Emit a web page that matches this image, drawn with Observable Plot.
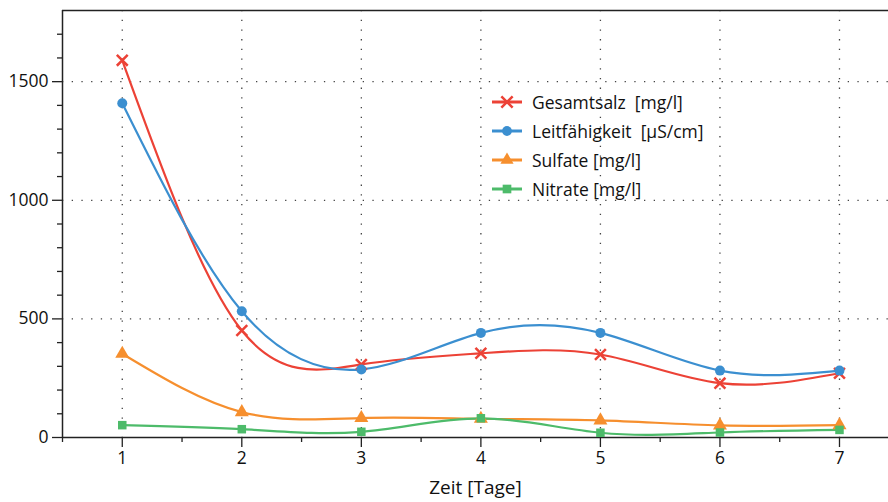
<!DOCTYPE html>
<html>
<head>
<meta charset="utf-8">
<script src="https://cdn.jsdelivr.net/npm/d3@7"></script>
<script src="https://cdn.jsdelivr.net/npm/@observablehq/plot@0.6"></script>
<style>
  html, body { margin: 0; padding: 0; background: #fff; overflow: hidden; }
  #wrap { position: relative; width: 888px; height: 502px; font-family: "Open Sans", sans-serif; }
  #legend { position: absolute; left: 491px; top: 87px; font-size: 17.5px; color: #111; }
  .row { display: flex; align-items: center; height: 29px; white-space: pre; }
  .row svg { margin-right: 9px; }
</style>
</head>
<body>
<div id="wrap"><div id="legend"></div></div>
<script>
const days = [1, 2, 3, 4, 5, 6, 7];
const seriesNames = ["Gesamtsalz  [mg/l]", "Leitfähigkeit  [µS/cm]", "Sulfate [mg/l]", "Nitrate [mg/l]"];
const gesamtsalz = [1590, 451, 308, 355, 350, 229, 271];
const leitfaehigkeit = [1409, 532, 287, 441, 441, 282, 282];
const sulfate = [353, 107, 82, 79, 72, 51, 52];
const nitrate = [52, 35, 24, 81, 20, 21, 32];
const colors = ["#ec4236", "#3b8fd0", "#f68f2e", "#4dbb6a"];
const symbols = ["times", "circle", "triangle", "square"];
const yMajor = [0, 500, 1000, 1500];
const yMinor = [100, 200, 300, 400, 600, 700, 800, 900, 1100, 1200, 1300, 1400, 1600, 1700];
const xMinor = [0.5, 1.5, 2.5, 3.5, 4.5, 5.5, 6.5];
const xLabel = "Zeit [Tage]";

const allValues = [gesamtsalz, leitfaehigkeit, sulfate, nitrate];
const series = seriesNames.map((name, k) => ({
  name, color: colors[k], symbol: symbols[k],
  data: days.map((d, i) => ({day: d, value: allValues[k][i]}))
}));

const fmt = d => String(d);
const grid = {stroke: "#444", strokeOpacity: 1, strokeWidth: 1.3, strokeDasharray: "1.3,8.4"};
const marks = [
  Plot.gridX(days, {...grid}),
  Plot.gridY([500, 1000, 1500], {...grid}),
  Plot.ruleY([1800], {stroke: "#222", strokeWidth: 1.5}),
  Plot.ruleY([0], {stroke: "#222", strokeWidth: 1.5}),
  Plot.ruleX([0.5], {stroke: "#222", strokeWidth: 1.5}),
  Plot.axisY(yMajor, {tickSize: 10, tickPadding: 4, fontSize: 17.5, tickFormat: fmt, stroke: "#222", strokeWidth: 1.3, label: null}),
  Plot.axisY(yMinor, {tickSize: 5, text: null, stroke: "#222", strokeWidth: 1.3, label: null}),
  Plot.axisX(days, {tickSize: 10, tickPadding: 4, fontSize: 17.5, tickFormat: fmt, stroke: "#222", strokeWidth: 1.3, label: null}),
  Plot.axisX(xMinor, {tickSize: 5, text: null, stroke: "#222", strokeWidth: 1.3, label: null}),
  Plot.text([xLabel], {frameAnchor: "bottom", dy: 56, fontSize: 19, fill: "#111"})
];
for (const s of series) {
  marks.push(Plot.line(s.data, {x: "day", y: "value", curve: "natural", stroke: s.color, strokeWidth: 2.2}));
}
for (const s of series) {
  if (s.symbol === "times") {
    marks.push(Plot.dot(s.data, {x: "day", y: "value", symbol: "times", r: 5, stroke: s.color, strokeWidth: 2.5}));
  } else {
    const r = s.symbol === "circle" ? 5 : s.symbol === "triangle" ? 5.2 : 4.8;
    marks.push(Plot.dot(s.data, {x: "day", y: "value", symbol: s.symbol, r, fill: s.color, stroke: "none"}));
  }
}

const chart = Plot.plot({
  width: 888, height: 502,
  marginLeft: 62, marginRight: 0, marginTop: 10, marginBottom: 65,
  style: {fontFamily: "Open Sans, sans-serif", color: "#111", background: "transparent"},
  x: {domain: [0.5, 7.41], axis: null},
  y: {domain: [0, 1800], axis: null},
  marks
});
document.getElementById("wrap").prepend(chart);

// legend
const legend = document.getElementById("legend");
for (const s of series) {
  const row = document.createElement("div");
  row.className = "row";
  const svg = d3.create("svg").attr("width", 32).attr("height", 16);
  svg.append("line").attr("x1", 1).attr("x2", 31).attr("y1", 8).attr("y2", 8)
    .attr("stroke", s.color).attr("stroke-width", 3);
  const symMap = {times: d3.symbolTimes, circle: d3.symbolCircle, triangle: d3.symbolTriangle, square: d3.symbolSquare};
  const path = svg.append("path").attr("transform", "translate(16,8)")
    .attr("d", d3.symbol(symMap[s.symbol], s.symbol === "times" ? 85 : 75)());
  if (s.symbol === "times") path.attr("fill", "none").attr("stroke", s.color).attr("stroke-width", 2.5);
  else path.attr("fill", s.color);
  row.appendChild(svg.node());
  const t = document.createElement("span");
  t.textContent = s.name;
  row.appendChild(t);
  legend.appendChild(row);
}
</script>
</body>
</html>
